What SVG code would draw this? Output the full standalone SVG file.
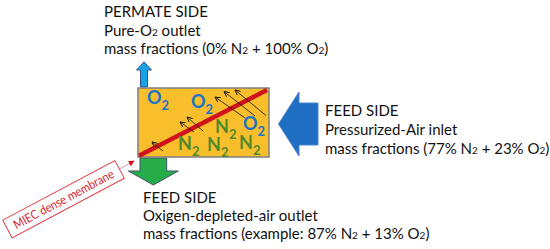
<svg xmlns="http://www.w3.org/2000/svg" width="550" height="249" viewBox="0 0 550 249">
<defs>
<style>
.t{font-family:Lato,"Open Sans","Liberation Sans",sans-serif;font-size:15px;fill:#111}
.s{font-size:10px}
.lb{font-family:Lato,"Open Sans","Liberation Sans",sans-serif;font-weight:bold;font-size:18px}
.o{fill:#1f72c4}
.n{fill:#4f8a2b}
.ls{font-size:13px}
.sm{stroke:#111;stroke-width:0.8;fill:none;marker-end:url(#oa)}
</style>
<marker id="oa" viewBox="0 0 8 8" refX="7" refY="4" markerWidth="6" markerHeight="6" markerUnits="userSpaceOnUse" orient="auto">
<path d="M0,0.5 L7,4 L0,7.5" fill="none" stroke="#111" stroke-width="1.2"/>
</marker>
<marker id="ra" viewBox="0 0 8 8" refX="7" refY="4" markerWidth="6" markerHeight="6" markerUnits="userSpaceOnUse" orient="auto">
<path d="M0,0 L8,4 L0,8 Z" fill="#d0121b"/>
</marker>
</defs>

<g id="permeate-arrow">
<polygon points="140.5,87 140.5,70 136.5,70 144,62 151.5,70 147.5,70 147.5,87" fill="#18a2e6" stroke="#2f5597" stroke-width="1"/>
</g>
<g id="feed-out-arrow">
<polygon points="140,158 166.7,158 166.7,171 178.3,171 153.3,185 128.3,171 140,171" fill="#26ad4a" stroke="#44546a" stroke-width="1"/>
</g>
<g id="feed-in-arrow">
<polygon points="278.5,124 299,92 299,103 318,103 318,145 299,145 299,156" fill="#1f6fc5" stroke="#4a7fcf" stroke-width="1"/>
</g>

<g id="module">
<rect x="138" y="88" width="131" height="69" fill="#f8be2b" stroke="#7f7f7f" stroke-width="1.5"/>
<line x1="139" y1="155.7" x2="267" y2="90" stroke="#d0121b" stroke-width="4.5"/>
<text class="lb o" x="147" y="104">O<tspan class="ls" dy="6">2</tspan></text>
<text class="lb o" x="191" y="108">O<tspan class="ls" dy="6">2</tspan></text>
<text class="lb n" x="215" y="133">N<tspan class="ls" dy="6">2</tspan></text>
<text class="lb o" x="243" y="130">O<tspan class="ls" dy="6">2</tspan></text>
<text class="lb n" x="178" y="150">N<tspan class="ls" dy="6">2</tspan></text>
<text class="lb n" x="207" y="151">N<tspan class="ls" dy="6">2</tspan></text>
<text class="lb n" x="239" y="149">N<tspan class="ls" dy="6">2</tspan></text>
</g>

<g id="connectors">
<line class="sm" x1="163" y1="151" x2="152" y2="142"/>
<line class="sm" x1="194" y1="132" x2="180" y2="122"/>
<line class="sm" x1="203" y1="131" x2="187" y2="117"/>
<line class="sm" x1="245" y1="118" x2="215" y2="97"/>
<line class="sm" x1="255" y1="116" x2="224" y2="91.5"/>
<line class="sm" x1="266" y1="115.5" x2="235" y2="90"/>
<line x1="119.5" y1="169" x2="134" y2="161" stroke="#e07a80" stroke-width="0.8" marker-end="url(#ra)"/>
</g>

<g id="membrane-label">
<g transform="translate(63.5,199.2) rotate(-28)">
<rect x="-63.5" y="-10" width="127" height="20" fill="#ffffff" stroke="#e0303a" stroke-width="0.9"/>
<text x="0" y="4.5" text-anchor="middle" font-family="Lato,'Open Sans','Liberation Sans',sans-serif" font-size="12.5" fill="#d62430" textLength="112" lengthAdjust="spacingAndGlyphs">MIEC dense membrane</text>
</g>
</g>

<g id="permeate-text">
<text class="t" x="104" y="16.5">PERMATE SIDE</text>
<text class="t" x="104" y="35.5">Pure-O<tspan class="s">2</tspan> outlet</text>
<text class="t" x="104" y="53.5">mass fractions (0% N<tspan class="s">2</tspan> + 100% O<tspan class="s">2</tspan>)</text>
</g>
<g id="feed-in-text">
<text class="t" x="325" y="115.5">FEED SIDE</text>
<text class="t" x="325" y="135">Pressurized-Air inlet</text>
<text class="t" x="325" y="154">mass fractions (77% N<tspan class="s">2</tspan> + 23% O<tspan class="s">2</tspan>)</text>
</g>
<g id="feed-out-text">
<text class="t" x="143" y="203">FEED SIDE</text>
<text class="t" x="143" y="221">Oxigen-depleted-air outlet</text>
<text class="t" x="143" y="239">mass fractions (example: 87% N<tspan class="s">2</tspan> + 13% O<tspan class="s">2</tspan>)</text>
</g>
</svg>
